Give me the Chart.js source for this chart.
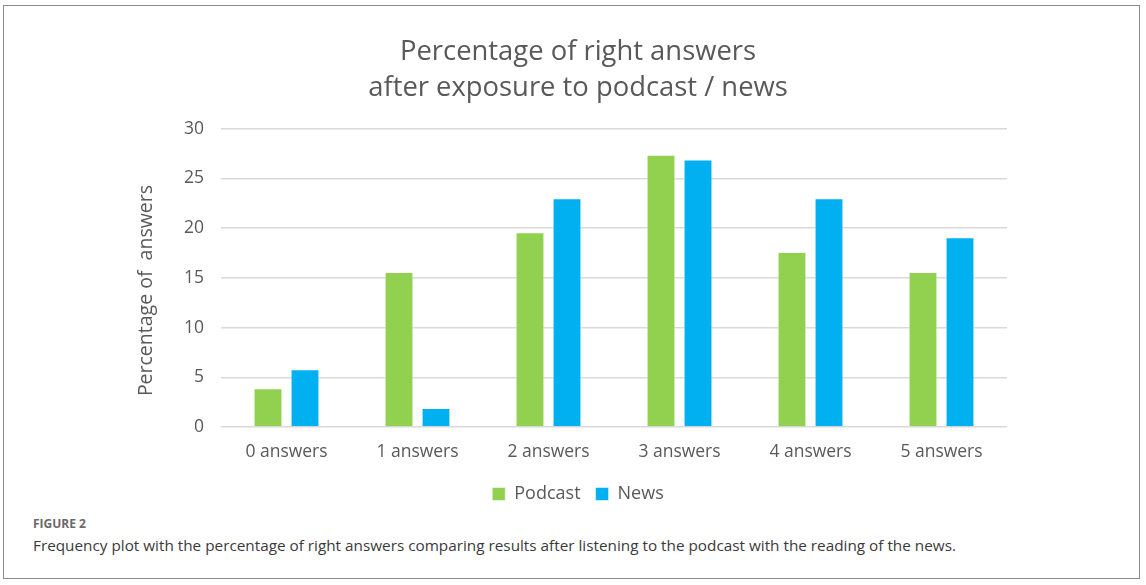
<!DOCTYPE html>
<html>
<head>
<meta charset="utf-8">
<script src="https://cdn.jsdelivr.net/npm/chart.js@4"></script>
<style>
  body { margin: 0; background: #ffffff; }
  .frame {
    position: absolute; left: 3px; top: 5px; width: 1135px; height: 572px;
    border: 1.5px solid #8a8a8a; box-sizing: content-box;
  }
  .chart-box { position: absolute; left: 0; top: 0; width: 1146px; height: 513px; }
  .fig-label {
    position: absolute; left: 33px; top: 515px;
    font-family: "Open Sans", sans-serif; font-weight: 700; font-size: 12px; color: #6a6a6a;
  }
  .caption {
    position: absolute; left: 33px; top: 535px;
    font-family: "Open Sans", sans-serif; font-size: 15.3px; color: #3a3a3a;
  }
</style>
</head>
<body>
<div class="frame"></div>
<div class="chart-box"><canvas id="barChart"></canvas></div>
<div class="fig-label">FIGURE 2</div>
<div class="caption">Frequency plot with the percentage of right answers comparing results after listening to the podcast with the reading of the news.</div>
<script>
// Frequency of right answers
const categories = ['0 answers', '1 answers', '2 answers', '3 answers', '4 answers', '5 answers'];
const podcastValues = [3.9, 15.6, 19.6, 27.4, 17.6, 15.6];
const newsValues = [5.8, 1.9, 23.0, 26.9, 23.0, 19.1];

const textColor = '#595959';
const fontFamily = '"Open Sans", sans-serif';

const ctx = document.getElementById('barChart');

new Chart(ctx, {
  type: 'bar',
  data: {
    labels: categories,
    datasets: [
      {
        label: 'Podcast',
        data: podcastValues,
        backgroundColor: '#92d050',
        borderColor: 'rgba(255, 255, 255, 0.5)',
        borderWidth: 1,
      },
      {
        label: 'News',
        data: newsValues,
        backgroundColor: '#00b0f0',
        borderColor: 'rgba(255, 255, 255, 0.5)',
        borderWidth: 1,
      },
    ],
  },
  options: {
    responsive: true,
    maintainAspectRatio: false,
    animation: false,
    categoryPercentage: 0.565,
    barPercentage: 0.78,
    layout: {
      padding: { top: 34, right: 139, bottom: 0, left: 149 },
    },
    plugins: {
      title: {
        display: true,
        text: ['Percentage of right answers', 'after exposure to podcast / news'],
        color: textColor,
        font: { family: fontFamily, size: 27.4, weight: '400', lineHeight: 1.31 },
        padding: { top: 0, bottom: 23 },
      },
      legend: {
        position: 'bottom',
        labels: {
          color: textColor,
          font: { family: fontFamily, size: 18 },
          boxWidth: 13,
          boxHeight: 13,
          padding: 15,
        },
      },
      tooltip: { enabled: false },
    },
    scales: {
      x: {
        grid: { display: false },
        border: { display: false },
        ticks: {
          color: textColor,
          font: { family: fontFamily, size: 17.5 },
          padding: 7,
        },
      },
      y: {
        min: 0,
        max: 30,
        // keep the axis narrow so the title and legend centre like the original
        afterFit: (scale) => {
          scale.width = 72;
        },
        ticks: {
          stepSize: 5,
          color: textColor,
          font: { family: fontFamily, size: 17.5 },
          padding: 17,
        },
        grid: { color: '#d9d9d9', lineWidth: 1.5, drawTicks: false },
        border: { display: false },
        title: {
          display: true,
          text: 'Percentage of  answers     ',
          color: textColor,
          font: { family: fontFamily, size: 19.5 },
          padding: { top: -14, bottom: 0 },
        },
      },
    },
  },
});
</script>
</body>
</html>
